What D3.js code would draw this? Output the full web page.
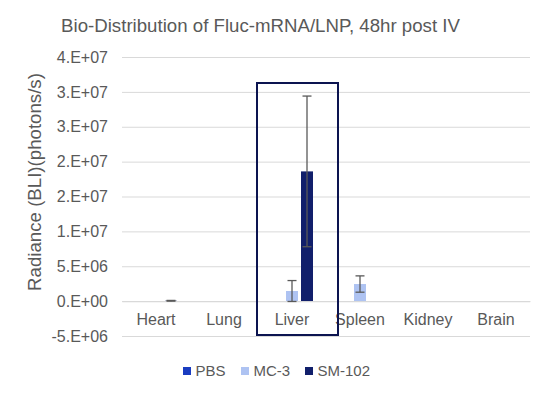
<!DOCTYPE html>
<html>
<head>
<meta charset="utf-8">
<script src="https://cdn.jsdelivr.net/npm/d3@7"></script>
<style>
  body { margin: 0; background: #fff; }
  text { font-family: "Liberation Sans", Arial, sans-serif; fill: #595959; }
</style>
</head>
<body>
<svg id="chart" width="550" height="395"></svg>
<script>
// ---- data ----
const categories = ["Heart", "Lung", "Liver", "Spleen", "Kidney", "Brain"];
const seriesNames = ["PBS", "MC-3", "SM-102"];
const pbsValues   = [0, 0, 0, 0, 0, 0];
const mc3Values   = [0, 0, 1.45e6, 2.45e6, 0, 0];
const sm102Values = [5e4, 0, 1.86e7, 0, 0, 0];
const pbsErrors   = [null, null, null, null, null, null];
const mc3Errors   = [null, null, 1.5e6, 1.17e6, null, null];
const sm102Errors = [5e4, null, 1.08e7, null, null, null];
const yTickValues = [-5e6, 0, 5e6, 1e7, 1.5e7, 2e7, 2.5e7, 3e7, 3.5e7];
const yTickLabels = ["-5.E+06", "0.E+00", "5.E+06", "1.E+07", "2.E+07", "2.E+07", "3.E+07", "3.E+07", "4.E+07"];
const seriesColors = ["#1a3cc0", "#aec3f2", "#111f6b"];
const highlightCategory = "Liver";

const seriesData = [
  { name: seriesNames[0], values: pbsValues, errors: pbsErrors, color: seriesColors[0] },
  { name: seriesNames[1], values: mc3Values, errors: mc3Errors, color: seriesColors[1] },
  { name: seriesNames[2], values: sm102Values, errors: sm102Errors, color: seriesColors[2] }
];

// ---- layout ----
const svg = d3.select("#chart");
const plotLeft = 122, plotRight = 530, plotTop = 57, plotBottom = 336;

const x = d3.scaleBand().domain(categories).range([plotLeft, plotRight]).paddingInner(0).paddingOuter(0);
const xInner = d3.scaleBand().domain(seriesNames).range([-22.5, 22.5]).paddingInner(0.2).paddingOuter(0.1);
const y = d3.scaleLinear().domain([-5e6, 3.5e7]).range([plotBottom, plotTop]);

// title
svg.append("text")
  .attr("x", 260.5).attr("y", 32)
  .attr("text-anchor", "middle")
  .style("font-size", "18.67px")
  .text("Bio-Distribution of Fluc-mRNA/LNP, 48hr post IV");

// y axis + gridlines
const yAxis = svg.append("g")
  .attr("transform", `translate(${plotLeft},0)`)
  .call(d3.axisLeft(y)
    .tickValues(yTickValues)
    .tickFormat((d, i) => yTickLabels[i])
    .tickSizeInner(-(plotRight - plotLeft))
    .tickSizeOuter(0)
    .tickPadding(14));
yAxis.select(".domain").remove();
yAxis.selectAll(".tick line").attr("stroke", "#d9d9d9").attr("stroke-width", 1);
yAxis.selectAll(".tick text")
  .style("font-size", "16px")
  .style("font-family", "'Liberation Sans', Arial, sans-serif")
  .attr("fill", "#595959");

// y axis title
svg.append("text")
  .attr("transform", "translate(41,182) rotate(-90)")
  .attr("text-anchor", "middle")
  .style("font-size", "18.67px")
  .text("Radiance (BLI)(photons/s)");

// bars
const groups = svg.append("g").selectAll("g.series")
  .data(seriesData).join("g").attr("class", "series");

groups.selectAll("rect")
  .data(s => s.values.map((v, i) => ({ cat: categories[i], v, s })))
  .join("rect")
  .attr("x", d => x(d.cat) + x.bandwidth() / 2 + xInner(d.s.name))
  .attr("width", xInner.bandwidth())
  .attr("y", d => y(Math.max(0, d.v)))
  .attr("height", d => Math.abs(y(d.v) - y(0)))
  .attr("fill", d => d.s.color);

// x axis (zero line + labels)
const xAxis = svg.append("g")
  .attr("transform", `translate(0,${y(0)})`)
  .call(d3.axisBottom(x).tickSize(0).tickPadding(13));
xAxis.select(".domain").attr("stroke", "#d9d9d9").attr("stroke-width", 1);
xAxis.selectAll(".tick text")
  .style("font-size", "16px")
  .style("font-family", "'Liberation Sans', Arial, sans-serif")
  .attr("fill", "#595959");

// error bars
const errG = svg.append("g");
seriesData.forEach(s => {
  s.values.forEach((v, i) => {
    const e = s.errors[i];
    if (e == null) return;
    const cx = x(categories[i]) + x.bandwidth() / 2 + xInner(s.name) + xInner.bandwidth() / 2;
    const yTop = y(v + e), yBot = y(v - e);
    const capHalf = 4.5;
    errG.append("line").attr("x1", cx).attr("x2", cx).attr("y1", yTop).attr("y2", yBot);
    errG.append("line").attr("x1", cx - capHalf).attr("x2", cx + capHalf).attr("y1", yTop).attr("y2", yTop);
    errG.append("line").attr("x1", cx - capHalf).attr("x2", cx + capHalf).attr("y1", yBot).attr("y2", yBot);
  });
});
errG.selectAll("line").attr("stroke", "#595959").attr("stroke-width", 1.3);

// highlight box around Liver
const hx = x(highlightCategory);
svg.append("rect")
  .attr("x", hx + x.bandwidth() / 2 - 35)
  .attr("y", 83)
  .attr("width", 81)
  .attr("height", 252)
  .attr("fill", "none")
  .attr("stroke", "#0c1450")
  .attr("stroke-width", 2);

// legend
const legendX = [183, 241, 305];
const legend = svg.append("g");
seriesData.forEach((s, i) => {
  legend.append("rect")
    .attr("x", legendX[i]).attr("y", 367)
    .attr("width", 8).attr("height", 8)
    .attr("fill", s.color);
  legend.append("text")
    .attr("x", legendX[i] + 12.5).attr("y", 376)
    .style("font-size", "15px")
    .text(s.name);
});
</script>
</body>
</html>
